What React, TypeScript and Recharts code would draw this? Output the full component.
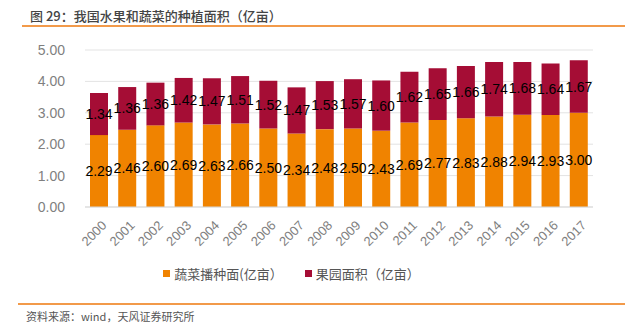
import { BarChart, Bar, XAxis, YAxis, CartesianGrid, LabelList } from "recharts";

const years = [
  "2000", "2001", "2002", "2003", "2004", "2005", "2006", "2007", "2008",
  "2009", "2010", "2011", "2012", "2013", "2014", "2015", "2016", "2017",
];
const vegetableArea = [
  2.29, 2.46, 2.6, 2.69, 2.63, 2.66, 2.5, 2.34, 2.48, 2.5, 2.43, 2.69, 2.77, 2.83, 2.88, 2.94, 2.93, 3.0,
];
const orchardArea = [
  1.34, 1.36, 1.36, 1.42, 1.47, 1.51, 1.52, 1.47, 1.53, 1.57, 1.6, 1.62, 1.65, 1.66, 1.74, 1.68, 1.64, 1.67,
];
const yTicks = [0, 1, 2, 3, 4, 5];

const seriesNames = ["蔬菜播种面(亿亩）", "果园面积（亿亩）"];
const ORANGE = "#f08300";
const MAROON = "#a50d35";

const data = years.map((year, i) => ({
  year,
  veg: vegetableArea[i],
  orchard: orchardArea[i],
}));

const fmt = (v: number) => Number(v).toFixed(2);

const YearTick = (props: any) => {
  const { x, y, payload } = props;
  return (
    <g transform={`translate(${x + 5},${y + 8}) rotate(-45)`}>
      <text x={0} y={0} dy="0.35em" textAnchor="end" fill="#7f7f7f" fontSize={13}>
        {payload.value}
      </text>
    </g>
  );
};

const App = () => {
  return (
    <div
      style={{
        position: "absolute",
        left: 0,
        top: 0,
        width: 625,
        height: 323,
        background: "#fff",
        fontFamily: "'Liberation Sans', 'Noto Sans CJK SC', sans-serif",
        overflow: "hidden",
      }}
    >
      <div
        style={{
          position: "absolute",
          left: 30,
          top: 6,
          fontSize: 13,
          color: "#444",
          fontWeight: 500,
          fontFamily: "'Noto Sans CJK SC', sans-serif",
          whiteSpace: "nowrap",
        }}
      >
        图 29：我国水果和蔬菜的种植面积（亿亩）
      </div>
      <div style={{ position: "absolute", left: 22, top: 25, width: 603, height: 1.5, background: "#f29a4a" }} />

      <div style={{ position: "absolute", left: 0, top: 0 }}>
        <BarChart
          width={625}
          height={323}
          data={data}
          margin={{ top: 50, right: 32, left: 0, bottom: 0 }}
          barSize={18}
        >
          <CartesianGrid vertical={false} stroke="#e3e3e3" />
          <XAxis
            dataKey="year"
            height={116}
            interval={0}
            tick={<YearTick />}
            tickLine={false}
            axisLine={{ stroke: "#d9d9d9" }}
          />
          <YAxis
            width={85}
            domain={[0, 5]}
            ticks={yTicks}
            tickFormatter={fmt}
            tick={{ fill: "#7f7f7f", fontSize: 14 }}
            tickLine={false}
            axisLine={false}
            tickMargin={14}
          />
          <Bar dataKey="veg" stackId="a" fill={ORANGE} isAnimationActive={false}>
            <LabelList dataKey="veg" position="center" formatter={fmt} fill="#000" fontSize={14} />
          </Bar>
          <Bar dataKey="orchard" stackId="a" fill={MAROON} isAnimationActive={false}>
            <LabelList dataKey="orchard" position="center" formatter={fmt} fill="#000" fontSize={14} />
          </Bar>
        </BarChart>
      </div>

      <div
        style={{
          position: "absolute",
          top: 264,
          left: 0,
          width: 625,
          display: "flex",
          justifyContent: "center",
          fontSize: 13,
          color: "#555",
          fontFamily: "'Noto Sans CJK SC', sans-serif",
        }}
      >
        <div style={{ display: "flex", alignItems: "center", marginLeft: -42 }}>
          <span style={{ width: 7, height: 7, background: ORANGE, marginRight: 4 }} />
          <span>{seriesNames[0]}</span>
        </div>
        <div style={{ display: "flex", alignItems: "center", marginLeft: 22 }}>
          <span style={{ width: 7, height: 7, background: MAROON, marginRight: 4 }} />
          <span>{seriesNames[1]}</span>
        </div>
      </div>

      <div style={{ position: "absolute", left: 18, top: 303, width: 607, height: 1.5, background: "#f29a4a" }} />
      <div
        style={{
          position: "absolute",
          left: 26,
          top: 310,
          fontSize: 11,
          lineHeight: "12px",
          color: "#555",
          fontFamily: "'Noto Sans CJK SC', sans-serif",
          whiteSpace: "nowrap",
        }}
      >
        资料来源：wind，天风证券研究所
      </div>
    </div>
  );
};

export default App;
